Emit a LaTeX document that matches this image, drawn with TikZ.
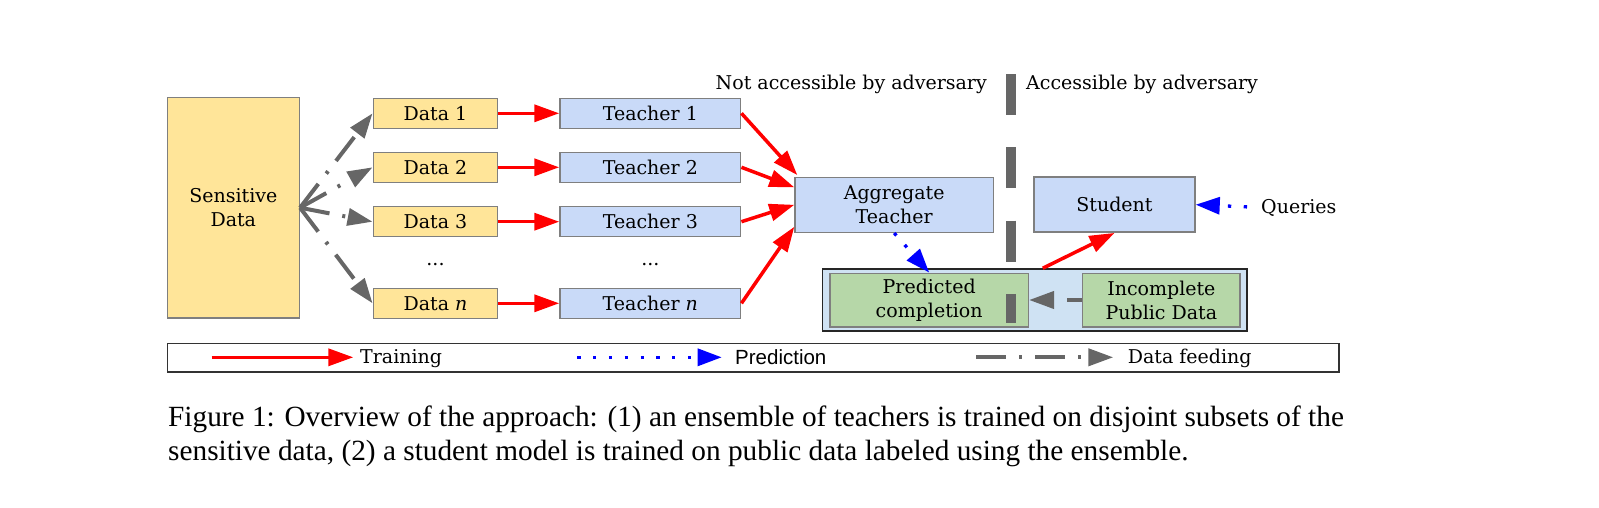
\documentclass[tikz,border=0pt]{standalone}
\usepackage{fontspec}
\setmainfont{DejaVu Serif}
\newfontfamily\capfont{Liberation Serif}
\newfontfamily\legsans{Liberation Sans}
\usetikzlibrary{arrows.meta,calc}
\definecolor{yel}{HTML}{FFE599}
\definecolor{lblue}{HTML}{C9DAF8}
\definecolor{lgreen}{HTML}{B6D7A8}
\definecolor{pale}{HTML}{CFE2F3}
\definecolor{bord}{HTML}{7F7F7F}
\definecolor{feed}{HTML}{666666}
\begin{document}
\begin{tikzpicture}[x=1pt,y=-1pt,
  box/.style={draw=bord, line width=1.5pt, inner sep=0pt, align=center, font=\fontsize{19}{24}\selectfont},
  databox/.style={box, fill=yel, minimum width=124.4pt, minimum height=30pt},
  teachbox/.style={box, fill=lblue, minimum width=180.7pt, minimum height=30pt},
  greenbox/.style={box, fill=lgreen, minimum height=53.5pt},
  train/.style={draw=red, line width=3.5pt, -{Triangle[length=25pt,width=17pt]}},
  predict/.style={draw=blue, line width=3.3pt, dash pattern=on 3.3pt off 12.5pt, -{Triangle[length=24pt,width=17pt]}},
  feeding/.style={draw=feed, line width=4pt, dash pattern=on 30pt off 13pt on 3pt off 13pt, -{Triangle[length=25pt,width=17pt]}},
  lbl/.style={inner sep=0pt, font=\fontsize{19}{24}\selectfont},
  captxt/.style={anchor=base west, inner sep=0pt, font=\capfont\fontsize{29.3}{34}\selectfont},
]
\useasboundingbox (0,0) rectangle (1599,507);

% sensitive data
\node[box, fill=yel, minimum width=132pt, minimum height=220.7pt] (sens) at (233.3,207.7) {Sensitive\\Data};

% data boxes
\node[databox] (d1) at (435.5,113.3) {Data 1};
\node[databox] (d2) at (435.5,167.3) {Data 2};
\node[databox] (d3) at (435.5,221.7) {Data 3};
\node[lbl, anchor=base] (ddots) at (435.5,265.5) {...};
\node[databox] (dn) at (435.5,303.3) {Data \textit{n}};

% teachers
\node[teachbox] (t1) at (650.35,113.3) {Teacher 1};
\node[teachbox] (t2) at (650.35,167.3) {Teacher 2};
\node[teachbox] (t3) at (650.35,221.7) {Teacher 3};
\node[lbl, anchor=base] (tdots) at (650.35,265.5) {...};
\node[teachbox] (tn) at (650.35,303.3) {Teacher \textit{n}};

% aggregate & student
\node[box, fill=lblue, minimum width=198.3pt, minimum height=55pt] (agg) at (894.2,204.8) {Aggregate\\Teacher};
\node[box, fill=lblue, minimum width=161pt, minimum height=55pt] (student) at (1114.5,204.7) {Student};

% public data area
\node[draw=black!85, line width=1.5pt, fill=pale, minimum width=424.5pt, minimum height=62pt, inner sep=0pt] (outer) at (1034.75,300) {};
\node[greenbox, minimum width=198.3pt] (pred) at (929.15,300) {Predicted\\completion};
\node[greenbox, minimum width=157.3pt] (inc) at (1161.35,300) {Incomplete\\Public Data};

% separator
\coordinate (sepTop) at (1011,74);
\coordinate (sepBot) at (1011,323);
\draw[feed, line width=9.4pt, dash pattern=on 41pt off 32.3pt] (sepTop) -- (sepBot);

% labels
\node[lbl, anchor=base east] (notacc) at (987,89.3) {Not accessible by adversary};
\node[lbl, anchor=base west] (acc) at (1026,89.3) {Accessible by adversary};
\node[lbl, anchor=base west] (queries) at (1261,213) {Queries};

% data feeding arrows
\draw[feeding] (sens.east) -- (d1.west);
\draw[feeding] (sens.east) -- (d2.west);
\draw[feeding] (sens.east) -- (d3.west);
\draw[feeding] (sens.east) -- (dn.west);

% training arrows
\draw[train] (d1.east) -- (t1.west);
\draw[train] (d2.east) -- (t2.west);
\draw[train] (d3.east) -- (t3.west);
\draw[train] (dn.east) -- (tn.west);
\draw[train] (t1.east) -- ([xshift=3pt,yshift=1.5pt]agg.north west);
\draw[train] (t2.east) -- ([yshift=17.5pt]agg.west);
\draw[train] (t3.east) -- (agg.west);
\draw[train] (tn.east) -- ([yshift=-22pt]agg.west);
\draw[train] ([xshift=8pt]outer.north) -- (student.south);

% prediction arrows
\draw[predict] (agg.south) -- (pred.north);
\draw[predict, shorten <=14pt] (queries.west) -- (student.east);

% feeding inside
\draw[feeding, dash phase=15pt] (inc.west) -- (pred.east);

% legend
\node[draw=black!80, line width=1.3pt, minimum width=1171.7pt, minimum height=28.7pt, inner sep=0pt] (legend) at (753.15,357.65) {};
\coordinate (l1a) at (211.7,357.3);
\coordinate (l1b) at (353.3,357.3);
\draw[train] (l1a) -- (l1b);
\node[lbl, anchor=base west] (ltrain) at (360,363.3) {Training};
\coordinate (l2a) at (577.3,357.3);
\coordinate (l2b) at (721.7,357.3);
\draw[predict] (l2a) -- (l2b);
\node[inner sep=0pt, anchor=base west, font=\legsans\fontsize{20.5}{24}\selectfont] (lpred) at (735,364) {Prediction};
\coordinate (l3a) at (976,357.3);
\coordinate (l3b) at (1113.3,357.3);
\draw[feeding] (l3a) -- (l3b);
\node[lbl, anchor=base west] (lfeed) at (1127.7,363.3) {Data feeding};

% caption
\node[captxt] (cap1) at (168,426) {Figure 1: Overview of the approach: (1) an ensemble of teachers is trained on disjoint subsets of the};
\node[captxt] (cap2) at (168,460) {sensitive data, (2) a student model is trained on public data labeled using the ensemble.};
\end{tikzpicture}
\end{document}
